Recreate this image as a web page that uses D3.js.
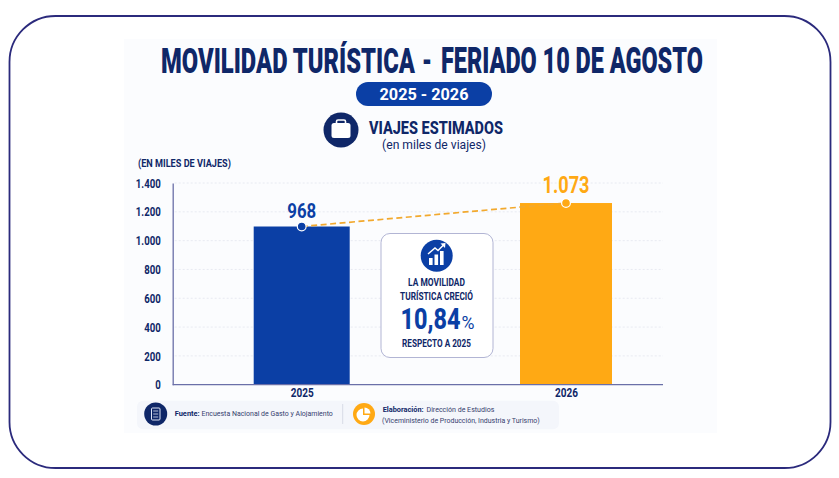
<!DOCTYPE html>
<html><head><meta charset="utf-8">
<script src="https://cdn.jsdelivr.net/npm/d3@7"></script>
<style>html,body{margin:0;padding:0;background:#fff}svg{display:block}text{font-family:Roboto,"Liberation Sans",sans-serif}</style>
</head><body><svg id="c" width="839" height="478"></svg>
<script>
const years = ["2025","2026"];
const barHeights = [1098,1261];
const valueLabels = ["968","1.073"];
const barColors = ["#0b3fa5","#ffa914"];
const ticks = [0,200,400,600,800,1000,1200,1400];
const tickLabels = ["0","200","400","600","800","1.000","1.200","1.400"];
const NAVY="#0f2768", BLUE="#0b3fa5", ORANGE="#ffa914";

const svg=d3.select("#c");
svg.append("rect").attr("x",9.5).attr("y",16).attr("width",821).attr("height",452).attr("rx",46).attr("fill","#fff").attr("stroke","#2b2a7c").attr("stroke-width",1.8);
svg.append("rect").attr("x",124).attr("y",39).attr("width",593).attr("height",394).attr("fill","#fbfcfe");

function t(x,y,s,size,weight,fill,anchor,width){
  const e=svg.append("text").attr("font-size",size).attr("font-weight",weight).attr("fill",fill).attr("text-anchor",anchor||"middle").text(s);
  const k=width?width/e.node().getComputedTextLength():1;
  e.attr("transform",`translate(${x},${y}) scale(${k},1)`);
  return e;
}
// header
t(161,72.7,"MOVILIDAD TURÍSTICA",36,900,NAVY,"start",254);
t(422,72.7,"-",36,900,NAVY,"start",10);
t(441,72.7,"FERIADO 10 DE AGOSTO",36,900,NAVY,"start",262);
svg.append("rect").attr("x",356).attr("y",82).attr("width",136).attr("height",24).attr("rx",12).attr("fill",BLUE);
t(424,100,"2025 - 2026",17,700,"#fff","middle",89);
svg.append("circle").attr("cx",341).attr("cy",130).attr("r",17.5).attr("fill",NAVY);
svg.append("rect").attr("x",331.5).attr("y",123).attr("width",19).attr("height",15).attr("rx",2.5).attr("fill","#fff");
svg.append("rect").attr("x",336.5).attr("y",120).attr("width",9).attr("height",5).attr("rx",1.5).attr("fill","none").attr("stroke","#fff").attr("stroke-width",1.6);
t(436,134,"VIAJES ESTIMADOS",18,800,NAVY,"middle",134);
t(434,149,"(en miles de viajes)",12.5,400,NAVY,"middle",104);
t(138,167,"(EN MILES DE VIAJES)",10,700,NAVY,"start",93);

// chart
const y=d3.scaleLinear().domain([0,1400]).range([384.7,183]);
const x=d3.scalePoint().domain(years).range([301.7,566]);
const barWidth={"2025":96,"2026":92};
const axisX=172.7, axisEnd=663;
const grid=svg.append("g");
grid.selectAll("line").data(ticks.slice(1)).join("line")
  .attr("x1",axisX+2).attr("x2",axisEnd).attr("y1",d=>y(d)).attr("y2",d=>y(d))
  .attr("stroke","#e3e6ef").attr("stroke-width",0.8).attr("stroke-dasharray","2 2");
svg.selectAll("rect.bar").data(years).join("rect").attr("class","bar")
  .attr("x",d=>x(d)-barWidth[d]/2).attr("width",d=>barWidth[d])
  .attr("y",(d,i)=>y(barHeights[i])).attr("height",(d,i)=>y(0)-y(barHeights[i]))
  .attr("fill",(d,i)=>barColors[i]);
const yAxis=svg.append("g").attr("transform",`translate(${axisX},0)`)
  .call(d3.axisLeft(y).tickValues(ticks).tickSize(0).tickPadding(12).tickFormat((d,i)=>tickLabels[i]));
yAxis.select(".domain").attr("stroke","#6a6fa8").attr("stroke-width",1.3);
yAxis.selectAll("text").attr("font-size",13).attr("font-weight",700).attr("fill",NAVY).attr("font-family","Roboto")
  .each(function(){const l=this.getComputedTextLength();d3.select(this).attr("textLength",l*0.74).attr("lengthAdjust","spacingAndGlyphs");});
svg.append("line").attr("x1",axisX).attr("x2",axisEnd).attr("y1",y(0)).attr("y2",y(0)).attr("stroke","#6a6fa8").attr("stroke-width",1.3);
const xAxis=svg.append("g").attr("transform",`translate(0,${y(0)})`).call(d3.axisBottom(x).tickSize(0).tickPadding(3));
xAxis.select(".domain").remove();
xAxis.selectAll("text").attr("font-size",12.5).attr("font-weight",700).attr("fill",NAVY).attr("font-family","Roboto")
  .each(function(){const l=this.getComputedTextLength();d3.select(this).attr("textLength",l*0.8).attr("lengthAdjust","spacingAndGlyphs");});

const line=d3.line().x((d,i)=>x(years[i])).y(d=>y(d));
svg.append("path").attr("d",line(barHeights)).attr("fill","none").attr("stroke","#f2a92e").attr("stroke-width",1.7).attr("stroke-dasharray","6 3.5");
svg.selectAll("circle.pt").data(years).join("circle").attr("class","pt")
  .attr("cx",d=>x(d)).attr("cy",(d,i)=>y(barHeights[i])).attr("r",4.4)
  .attr("fill",(d,i)=>barColors[i]).attr("stroke","#fff").attr("stroke-width",1.2);
years.forEach((d,i)=>{
  if(i==0) t(x(d),217.7,valueLabels[i],21,700,BLUE,"middle",29);
  else t(x(d),193,valueLabels[i],24,700,ORANGE,"middle",47);
});

// callout
svg.append("rect").attr("x",381).attr("y",233.5).attr("width",112).attr("height",124).attr("rx",9).attr("fill","#fff").attr("stroke","#a9adcf").attr("stroke-width",0.9);
svg.append("circle").attr("cx",436.7).attr("cy",255.7).attr("r",16).attr("fill",BLUE);
[[429,258,3.6,7],[434.5,254.5,3.6,10.5],[440,251,3.6,14]].forEach(b=>svg.append("rect").attr("x",b[0]).attr("y",b[1]).attr("width",b[2]).attr("height",b[3]).attr("fill","#fff"));
svg.append("path").attr("d","M428 254 L435 248 L438 250.5 L444 244.5").attr("fill","none").attr("stroke","#fff").attr("stroke-width",1.5);
svg.append("path").attr("d","M440.5 243.5 L445.5 243 L445 248 Z").attr("fill","#fff");
t(436.5,285.7,"LA MOVILIDAD",10.5,700,NAVY,"middle",57);
t(436.5,299.7,"TURÍSTICA CRECIÓ",10.5,700,NAVY,"middle",73);
t(400.5,329,"10,84",30,800,BLUE,"start",60);
t(461.5,329,"%",19,400,BLUE,"start",13);
t(436.5,347,"RESPECTO A 2025",10,700,NAVY,"middle",69);

// footer
svg.append("rect").attr("x",137).attr("y",400.7).attr("width",422).attr("height",28.5).attr("rx",6).attr("fill","#f4f6fb");
svg.append("circle").attr("cx",155.7).attr("cy",414).attr("r",11.5).attr("fill",NAVY);
svg.append("rect").attr("x",151.5).attr("y",408).attr("width",8.5).attr("height",12).attr("rx",1).attr("fill","none").attr("stroke","#dfe5f5").attr("stroke-width",1);
[411,414,417].forEach(v=>svg.append("line").attr("x1",153.2).attr("x2",158.2).attr("y1",v).attr("y2",v).attr("stroke","#dfe5f5").attr("stroke-width",0.8));
t(174.7,415.5,"Fuente:",7,700,NAVY,"start",25);
t(201.5,415.5,"Encuesta Nacional de Gasto y Alojamiento",7,400,"#34406e","start",131.5);
svg.append("line").attr("x1",342.7).attr("x2",342.7).attr("y1",404).attr("y2",424).attr("stroke","#cfd3e0").attr("stroke-width",0.8);
svg.append("circle").attr("cx",364).attr("cy",414).attr("r",11).attr("fill",ORANGE);
const arc=d3.arc();
svg.append("path").attr("transform","translate(363,415)").attr("d",arc({innerRadius:0,outerRadius:6.5,startAngle:Math.PI/2,endAngle:Math.PI*2})).attr("fill","#fff");
svg.append("path").attr("transform","translate(364.5,413.5)").attr("d",arc({innerRadius:0,outerRadius:6,startAngle:0,endAngle:Math.PI/2})).attr("fill","#fff");
t(382.7,412,"Elaboración:",7,700,NAVY,"start",41);
t(426.5,412,"Dirección de Estudios",7,400,"#34406e","start",68);
t(382,422.7,"(Viceministerio de Producción, Industria y Turismo)",7,400,"#34406e","start",158);
</script></body></html>
